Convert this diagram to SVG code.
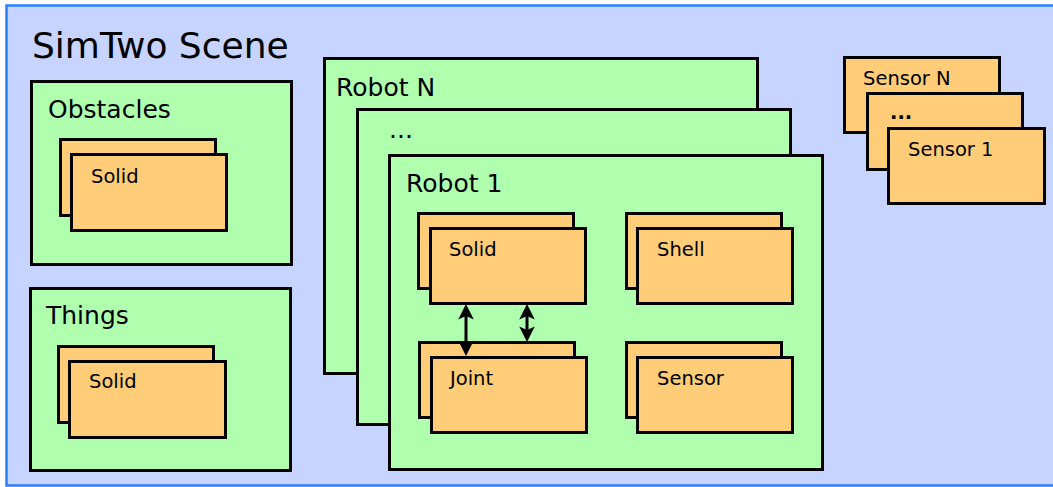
<svg xmlns="http://www.w3.org/2000/svg" width="1053" height="487" viewBox="0 0 1053 487">
  <style>
    text { font-family: "DejaVu Sans", "Liberation Sans", sans-serif; fill: #000; }
    .scene { fill: #c6d4ff; stroke: #2a7fff; stroke-width: 2.5; }
    .group { fill: #afffaf; stroke: #000; stroke-width: 3; }
    .part { fill: #ffcc77; stroke: #000; stroke-width: 3; }
    .big { font-size: 36px; }
    .mid { font-size: 25px; }
    .small { font-size: 19.5px; }
    .link { stroke: #000; stroke-width: 3; fill: none; marker-start: url(#head); marker-end: url(#head); }
  </style>
  <defs>
    <marker id="head" markerUnits="userSpaceOnUse" markerWidth="20" markerHeight="20" viewBox="-6 -8 18 16" refX="0" refY="0" orient="auto-start-reverse">
      <path d="M10,0 L-4,-7 L-1,0 L-4,7 Z" fill="#000"/>
    </marker>
  </defs>

  <!-- scene frame -->
  <g id="scene">
    <rect class="scene" x="6.5" y="5.5" width="1052" height="480"/>
    <text class="big" x="32" y="58">SimTwo Scene</text>
  </g>

  <!-- obstacles -->
  <g id="obstacles">
    <rect class="group" x="31.5" y="81.5" width="260" height="183"/>
    <text class="mid" x="48" y="118">Obstacles</text>
    <rect class="part" x="60.5" y="139.5" width="155" height="76"/>
    <rect class="part" x="71.5" y="154.5" width="155" height="76"/>
    <text class="small" x="91" y="183">Solid</text>
  </g>

  <!-- things -->
  <g id="things">
    <rect class="group" x="30.5" y="288.5" width="260" height="182"/>
    <text class="mid" x="46" y="324">Things</text>
    <rect class="part" x="58.5" y="346.5" width="155" height="76"/>
    <rect class="part" x="69.5" y="361.5" width="156" height="76"/>
    <text class="small" x="89" y="388">Solid</text>
  </g>

  <!-- robot stack -->
  <g id="robot-n">
    <rect class="group" x="324.5" y="58.5" width="433" height="315"/>
    <text class="mid" x="336" y="96">Robot N</text>
  </g>
  <g id="robot-dots">
    <rect class="group" x="357.5" y="109.5" width="433" height="315"/>
    <text class="mid" x="389" y="138">...</text>
  </g>
  <g id="robot-1">
    <rect class="group" x="389.5" y="155.5" width="433" height="314"/>
    <text class="mid" x="406" y="192">Robot 1</text>
  </g>

  <g id="robot-solid">
    <rect class="part" x="418.5" y="213.5" width="155" height="75"/>
    <rect class="part" x="430.5" y="228.5" width="155" height="75"/>
    <text class="small" x="449" y="256">Solid</text>
  </g>
  <g id="robot-shell">
    <rect class="part" x="626.5" y="213.5" width="155" height="75"/>
    <rect class="part" x="637.5" y="228.5" width="155" height="75"/>
    <text class="small" x="657" y="256">Shell</text>
  </g>
  <g id="robot-joint">
    <rect class="part" x="419.5" y="342.5" width="155" height="75"/>
    <rect class="part" x="431.5" y="357.5" width="155" height="75"/>
    <text class="small" x="450" y="385">Joint</text>
  </g>
  <g id="robot-sensor">
    <rect class="part" x="626.5" y="342.5" width="155" height="75"/>
    <rect class="part" x="637.5" y="357.5" width="155" height="75"/>
    <text class="small" x="657" y="385">Sensor</text>
  </g>

  <!-- solid/joint links -->
  <g id="connectors">
    <line class="link" x1="466" y1="315" x2="466" y2="345"/>
    <line class="link" x1="527" y1="315" x2="527" y2="331"/>
  </g>

  <!-- sensor stack -->
  <g id="sensor-n">
    <rect class="part" x="844.5" y="57.5" width="155" height="75"/>
    <text class="small" x="863" y="85">Sensor N</text>
  </g>
  <g id="sensor-dots">
    <rect class="part" x="867.5" y="93.5" width="155" height="76"/>
    <text class="small" x="890" y="119" font-weight="bold">...</text>
  </g>
  <g id="sensor-1">
    <rect class="part" x="888.5" y="128.5" width="156" height="75"/>
    <text class="small" x="908" y="156">Sensor 1</text>
  </g>
</svg>
